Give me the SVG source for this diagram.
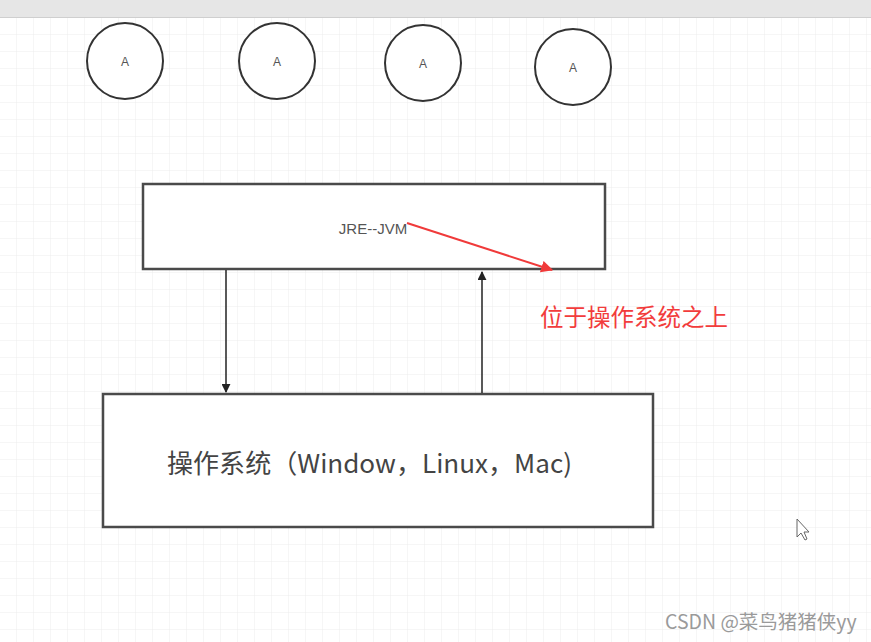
<svg xmlns="http://www.w3.org/2000/svg" width="871" height="642" viewBox="0 0 871 642">
<defs>
<pattern id="grid" x="0" y="18" width="17" height="17" patternUnits="userSpaceOnUse">
<path d="M17 0V17M0 17H17" fill="none" stroke="#ececec" stroke-width="1"/>
</pattern>
<marker id="ah" viewBox="0 0 10 10" refX="9" refY="5" markerWidth="9" markerHeight="9" markerUnits="userSpaceOnUse" orient="auto">
<path d="M0 0L10 5L0 10Z" fill="#222"/>
</marker>
<marker id="rh" viewBox="0 0 10 10" refX="9" refY="5" markerWidth="12" markerHeight="12" markerUnits="userSpaceOnUse" orient="auto">
<path d="M0 0L10 5L0 10Z" fill="#f03a3a"/>
</marker>
</defs>
<style>
.node{fill:#fff;stroke:#333;stroke-width:2}
.box{fill:#fff;stroke:#4a4a4a;stroke-width:2.5}
.lbl{font-family:"Liberation Sans","Noto Sans CJK SC",sans-serif;fill:#555;text-anchor:middle}
.cn{font-family:"Noto Sans CJK SC","Liberation Sans",sans-serif}
</style>
<rect width="871" height="642" fill="#fff"/>
<rect width="871" height="642" fill="url(#grid)"/>
<g id="toolbar">
<rect x="0" y="0" width="871" height="17" fill="#e6e6e6"/>
<line x1="0" y1="17.5" x2="871" y2="17.5" stroke="#cfcfcf"/>
</g>
<g id="a1"><circle class="node" cx="125" cy="61" r="38"/><text class="lbl" x="125" y="66" font-size="12">A</text></g>
<g id="a2"><circle class="node" cx="277" cy="61" r="38"/><text class="lbl" x="277" y="66" font-size="12">A</text></g>
<g id="a3"><circle class="node" cx="423" cy="63" r="38"/><text class="lbl" x="423" y="68" font-size="12">A</text></g>
<g id="a4"><circle class="node" cx="573" cy="67" r="38"/><text class="lbl" x="573" y="72" font-size="12">A</text></g>
<g id="jre"><rect class="box" x="143" y="184" width="462" height="85"/><text class="lbl" x="373" y="234" font-size="15" fill="#666">JRE--JVM</text></g>
<g id="os"><rect class="box" x="103" y="394" width="550" height="133"/><text class="cn" x="167" y="473" font-size="26" fill="#444" textLength="405" lengthAdjust="spacingAndGlyphs">操作系统（Window，Linux，Mac)</text></g>
<g id="connectors">
<line x1="226" y1="270" x2="226" y2="392" stroke="#222" stroke-width="1.5" marker-end="url(#ah)"/>
<line x1="482" y1="393" x2="482" y2="272" stroke="#222" stroke-width="1.5" marker-end="url(#ah)"/>
<line x1="407" y1="223" x2="552" y2="270" stroke="#f03a3a" stroke-width="2" marker-end="url(#rh)"/>
</g>
<g id="note"><text class="cn" x="540" y="326" font-size="23.5" fill="#f23c3c">位于操作系统之上</text></g>
<g id="cursor"><path d="M797 519L797 537L801 533L805 540L807 539L804 532L809 532Z" fill="#fff" stroke="#666" stroke-width="1"/></g>
<g id="watermark"><text class="cn" x="665" y="629" font-size="19.5" fill="#9a9a9a">CSDN @菜鸟猪猪侠yy</text></g>
</svg>
